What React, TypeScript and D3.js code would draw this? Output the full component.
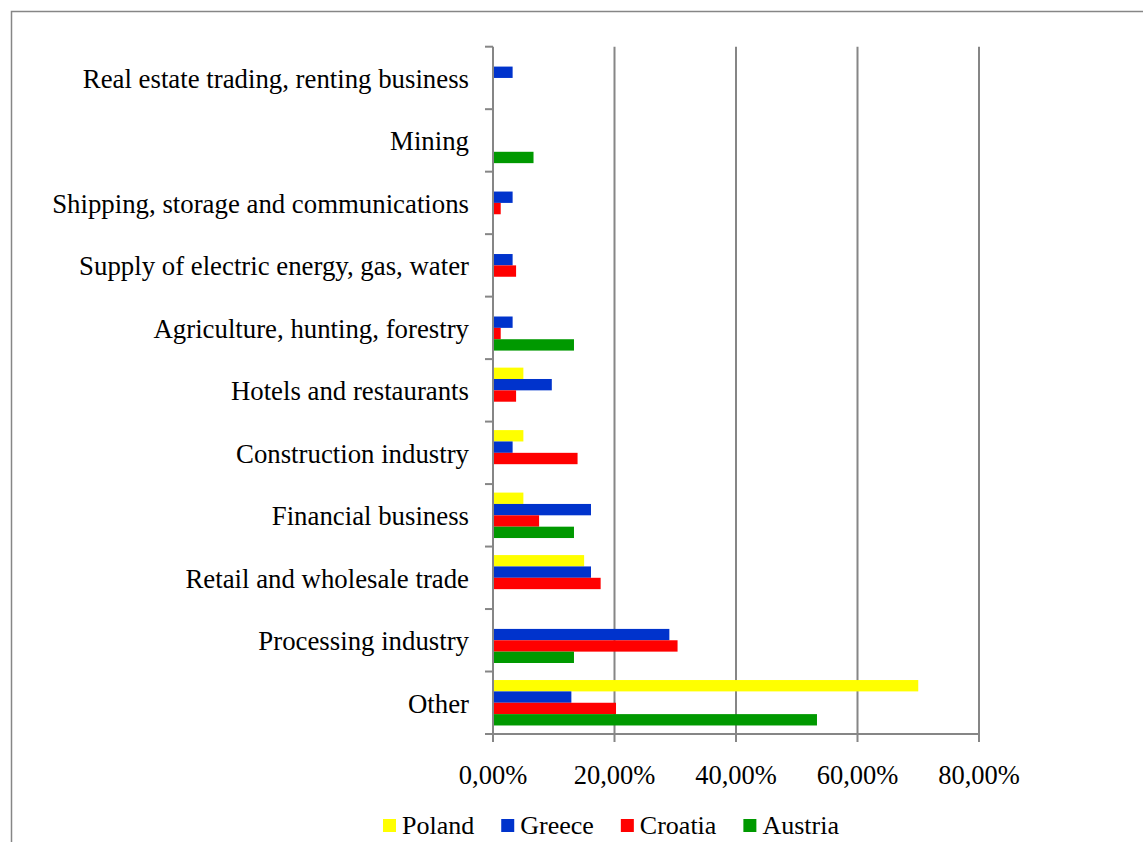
import React, { useEffect, useRef } from "react";
import * as d3 from "d3";

const categories = [
  "Real estate trading, renting business",
  "Mining",
  "Shipping, storage and communications",
  "Supply of electric energy, gas, water",
  "Agriculture, hunting, forestry",
  "Hotels and restaurants",
  "Construction industry",
  "Financial business",
  "Retail and wholesale trade",
  "Processing industry",
  "Other",
];

const seriesNames = ["Poland", "Greece", "Croatia", "Austria"];
const seriesColors = ["#FFFF00", "#0033CC", "#FF0000", "#009900"];

// values in percent, same order as categories
const poland = [0, 0, 0, 0, 0, 5.0, 5.0, 5.0, 15.0, 0, 70.0];
const greece = [3.23, 0, 3.23, 3.23, 3.23, 9.68, 3.23, 16.13, 16.13, 29.03, 12.9];
const croatia = [0, 0, 1.27, 3.8, 1.27, 3.8, 13.92, 7.59, 17.72, 30.38, 20.25];
const austria = [0, 6.67, 0, 0, 13.33, 0, 0, 13.33, 0, 13.33, 53.33];

const xTicks = [0, 20, 40, 60, 80];

const W = 1143;
const H = 842;

export default function App() {
  const ref = useRef<SVGSVGElement>(null);

  useEffect(() => {
    const svg = d3.select(ref.current);
    svg.selectAll("*").remove();
    const font = "'Liberation Serif', 'Times New Roman', serif";
    const fs = 26;
    const gray = "#868686";

    const left = 493;
    const right = 979;
    const top = 46.7;
    const bottom = 734;

    // outer frame
    svg
      .append("rect")
      .attr("x", 11.5)
      .attr("y", 11.5)
      .attr("width", 1300)
      .attr("height", 1000)
      .attr("fill", "white")
      .attr("stroke", gray)
      .attr("stroke-width", 1.5);

    const x = d3.scaleLinear().domain([0, 80]).range([left, right]);
    const y0 = d3
      .scaleBand<string>()
      .domain(categories)
      .range([top, bottom])
      .paddingInner(0.2727)
      .paddingOuter(0.1364);
    const y1 = d3
      .scaleBand<string>()
      .domain(seriesNames)
      .range([0, y0.bandwidth()]);

    // gridlines
    svg
      .append("g")
      .selectAll("line")
      .data(xTicks.slice(1))
      .join("line")
      .attr("x1", (d) => x(d))
      .attr("x2", (d) => x(d))
      .attr("y1", top)
      .attr("y2", bottom + 8)
      .attr("stroke", gray)
      .attr("stroke-width", 2);

    // bars
    const data = [poland, greece, croatia, austria];
    const g = svg.append("g");
    categories.forEach((c, ci) => {
      seriesNames.forEach((s, si) => {
        const v = data[si][ci];
        if (!v) return;
        g.append("rect")
          .attr("x", x(0) + 0.5)
          .attr("y", (y0(c) as number) + (y1(s) as number))
          .attr("width", x(v) - x(0) - 0.5)
          .attr("height", y1.bandwidth())
          .attr("fill", seriesColors[si]);
      });
    });

    // category axis
    svg
      .append("line")
      .attr("x1", left)
      .attr("x2", left)
      .attr("y1", top)
      .attr("y2", bottom + 8)
      .attr("stroke", gray)
      .attr("stroke-width", 2);
    const boundaries = d3.range(categories.length + 1).map(
      (i) => top + i * ((bottom - top) / categories.length)
    );
    svg
      .append("g")
      .selectAll("line")
      .data(boundaries)
      .join("line")
      .attr("x1", left - 8)
      .attr("x2", left)
      .attr("y1", (d) => d)
      .attr("y2", (d) => d)
      .attr("stroke", gray)
      .attr("stroke-width", 2);

    // value axis
    svg
      .append("line")
      .attr("x1", left - 8)
      .attr("x2", right)
      .attr("y1", bottom)
      .attr("y2", bottom)
      .attr("stroke", gray)
      .attr("stroke-width", 2);
    svg
      .append("line")
      .attr("x1", x(0))
      .attr("x2", x(0))
      .attr("y1", bottom)
      .attr("y2", bottom + 8)
      .attr("stroke", gray)
      .attr("stroke-width", 2);

    const fmt = (d: number) => d3.format(".2f")(d).replace(".", ",") + "%";
    svg
      .append("g")
      .selectAll("text")
      .data(xTicks)
      .join("text")
      .attr("x", (d) => x(d))
      .attr("y", 784)
      .attr("text-anchor", "middle")
      .attr("font-family", font)
      .attr("font-size", 26.5)
      .attr("fill", "#000")
      .text((d) => fmt(d));

    // category labels
    svg
      .append("g")
      .selectAll("text")
      .data(categories)
      .join("text")
      .attr("x", 469)
      .attr("y", (d) => (y0(d) as number) + y0.bandwidth() / 2 + 10)
      .attr("text-anchor", "end")
      .attr("font-family", font)
      .attr("font-size", 26.8)
      .attr("fill", "#000")
      .text((d) => d);

    // legend
    const lg = svg.append("g");
    let lx = 383;
    seriesNames.forEach((s, i) => {
      lg.append("rect")
        .attr("x", lx)
        .attr("y", 819)
        .attr("width", 13)
        .attr("height", 13)
        .attr("fill", seriesColors[i]);
      const t = lg
        .append("text")
        .attr("x", lx + 19)
        .attr("y", 834)
        .attr("font-family", font)
        .attr("font-size", fs)
        .attr("fill", "#000")
        .text(s);
      const w = (t.node() as SVGTextElement).getComputedTextLength();
      lx = lx + 19 + w + 27;
    });
  }, []);

  return (
    <svg
      ref={ref}
      width={W}
      height={H}
      style={{ position: "absolute", left: 0, top: 0, background: "white" }}
    />
  );
}
